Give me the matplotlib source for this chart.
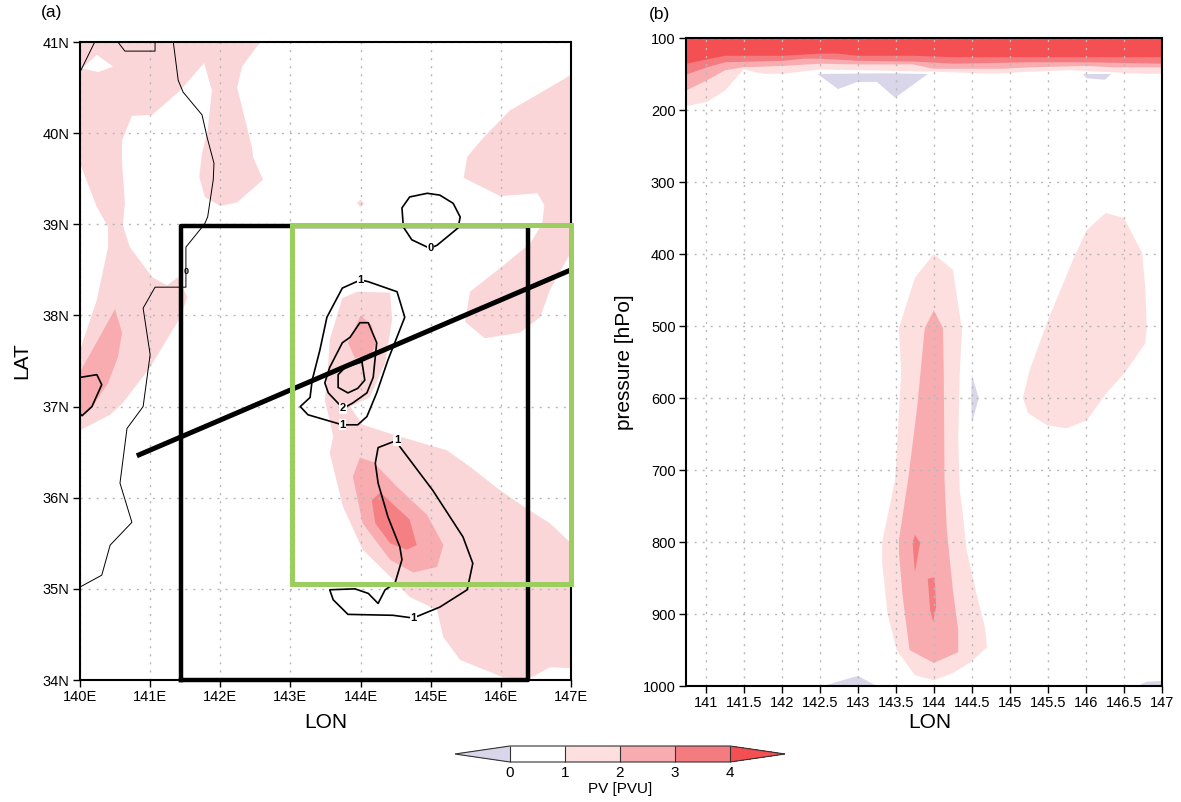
from matplotlib import pyplot as plt
from matplotlib.colors import ListedColormap, BoundaryNorm
from matplotlib.cm import ScalarMappable
import numpy as np

plt.rcParams['font.family'] = ['Liberation Sans', 'DejaVu Sans']

# colour levels
levels = [0, 1, 2, 3, 4]
level_colors = ['#ffffff', '#fddfdf', '#f9acb0', '#f47c80']
under_color = '#d9d6ea'
over_color = '#f45054'
light_a = '#fad6d8'
medium_a = '#f8acb0'
strong_a = '#f58084'
green = '#9bcd5f'

# panel (a) filled PV areas, (lon, lat)
nw_light = np.array([[140, 41], [142.57, 41], [142.31, 40.73], [142.24, 40.5], [142.45, 39.85], [142.47, 39.73],
                     [142.61, 39.49], [142.24, 39.24], [142, 39.2], [141.78, 39.3], [141.7, 39.52], [141.74, 39.78],
                     [141.82, 40.03], [141.88, 40.47], [141.77, 40.77], [141.43, 40.47], [141.03, 40.2], [140.74, 40.19],
                     [140.6, 39.92], [140.6, 39.67], [140.64, 39.23], [140.61, 38.99], [140.71, 38.75], [141.03, 38.42],
                     [141.24, 38.33], [141.4, 38.42], [141.53, 38.2], [141.43, 37.98], [141, 37.43], [140.61, 37.04],
                     [140.43, 36.91], [140, 36.74], [140, 37.62], [140.24, 38.17], [140.4, 38.75], [140.4, 38.97],
                     [140.24, 39.19], [140, 39.67]])
nw_hole = np.array([[140.03, 40.71], [140.24, 40.86], [140.47, 40.73], [140.26, 40.67]])
west_medium = np.array([[140.5, 38.07], [140.6, 37.81], [140.54, 37.54], [140.4, 37.26], [140.24, 37.07],
                        [140.17, 36.98], [140, 36.89], [140, 37.38], [140.24, 37.71]])
ne_light = np.array([[147, 40.64], [146.56, 40.44], [146.13, 40.25], [145.75, 39.95], [145.52, 39.74], [145.47, 39.51],
                     [145.99, 39.31], [146.52, 39.34], [146.62, 39.21], [146.59, 39.01], [146.42, 38.79], [145.99, 38.52],
                     [145.56, 38.26], [145.49, 37.93], [145.77, 37.75], [146.27, 37.81], [146.56, 37.98], [146.7, 38.28],
                     [146.96, 38.64], [147, 38.7]])
center_light = np.array([[143.95, 38.26], [144.42, 38.25], [144.45, 37.95], [144.35, 37.48], [144.13, 37.1], [143.85, 37],
                         [144.03, 36.8], [144.56, 36.67], [145.23, 36.52], [145.56, 36.34], [145.99, 36.08], [146.39, 35.87],
                         [146.7, 35.72], [147, 35.5], [147, 34.13], [146.7, 34.14], [146.44, 34.03], [146.37, 34],
                         [146.03, 34.03], [145.42, 34.22], [145.18, 34.47], [145.09, 34.77], [144.7, 34.91], [144.52, 35.06],
                         [144.03, 35.43], [143.75, 35.9], [143.56, 36.49], [143.61, 36.67], [143.56, 36.85], [143.49, 37.07],
                         [143.54, 37.48], [143.56, 37.73], [143.74, 38.19]])
center_medium = np.array([[144, 38], [144.16, 37.89], [144.21, 37.68], [144.16, 37.58], [143.92, 37.53], [143.82, 37.7],
                          [143.96, 37.93]])
south_medium = np.array([[143.99, 36.44], [144.18, 36.39], [144.52, 36.12], [144.95, 35.81], [145.18, 35.48], [145.09, 35.24],
                         [144.75, 35.18], [144.42, 35.32], [144.03, 35.72], [143.89, 36.23]])
south_strong = np.array([[144.16, 35.97], [144.28, 36.06], [144.7, 35.76], [144.8, 35.48], [144.66, 35.43], [144.42, 35.5],
                         [144.21, 35.72]])
dot_light = np.array([[143.95, 39.23], [144, 39.27], [144.05, 39.23], [144, 39.19]])

# panel (a) black contours
contour_west = np.array([[140, 37.32], [140.24, 37.35], [140.31, 37.24], [140.17, 37], [140.03, 36.9], [140, 36.92]])
contour_zero = np.array([[145, 38.74], [145.09, 38.77], [145.39, 38.96], [145.42, 39.08], [145.32, 39.23], [145.13, 39.32],
                         [144.95, 39.34], [144.7, 39.3], [144.59, 39.18], [144.61, 38.97], [144.73, 38.83], [144.95, 38.75],
                         [145, 38.74]])
contour_one_a = np.array([[144, 38.39], [143.74, 38.3], [143.52, 37.98], [143.42, 37.62], [143.31, 37.29], [143.28, 37.1],
                          [143.14, 37], [143.25, 36.91], [143.74, 36.8], [143.96, 36.8], [144.09, 36.89], [144.23, 37.15],
                          [144.39, 37.51], [144.63, 37.98], [144.52, 38.26], [144.11, 38.37], [144, 38.39]])
contour_two = np.array([[143.75, 36.98], [143.54, 37.15], [143.49, 37.26], [143.56, 37.43], [143.74, 37.7], [143.85, 37.76],
                        [143.99, 37.92], [144.11, 37.92], [144.23, 37.7], [144.18, 37.32], [144.09, 37.15], [143.89, 37.04],
                        [143.75, 36.98]])
contour_three = np.array([[144.02, 37.49], [144.06, 37.29], [143.96, 37.2], [143.82, 37.15], [143.68, 37.21], [143.68, 37.35],
                          [143.78, 37.43], [144.02, 37.49]])
contour_one_b = np.array([[144.52, 36.63], [144.25, 36.55], [144.21, 36.38], [144.25, 36.16], [144.39, 35.79], [144.56, 35.46],
                          [144.59, 35.32], [144.49, 35.06], [144.35, 34.99], [144.25, 34.84], [144.11, 34.95], [143.92, 35],
                          [143.56, 34.99], [143.61, 34.88], [143.82, 34.72], [144.46, 34.71], [144.75, 34.68], [145.13, 34.8],
                          [145.52, 34.99], [145.6, 35.28], [145.46, 35.57], [145.03, 36.08], [144.56, 36.56], [144.52, 36.63]])
contour_labels = [(145, 38.74, '0'), (144, 38.39, '1'), (143.75, 36.98, '2'), (143.74, 36.8, '1'),
                  (144.52, 36.63, '1'), (144.75, 34.68, '1')]

# panel (a) coast
coast_main = np.array([[141.33, 41], [141.4, 40.58], [141.47, 40.45], [141.74, 40.2], [141.81, 39.96], [141.91, 39.67],
                       [141.9, 39.49], [141.82, 39.08], [141.78, 39.01], [141.71, 38.94], [141.51, 38.75], [141.51, 38.31],
                       [141.07, 38.31], [140.9, 38.08], [141, 37.57], [140.9, 37], [140.67, 36.76], [140.57, 36.16],
                       [140.74, 35.73], [140.43, 35.48], [140.31, 35.15], [140, 35.02]])
coast_nw = np.array([[140.21, 41], [140, 40.67]])
coast_box = np.array([[140.54, 41], [140.64, 40.9], [141.07, 40.9], [141.07, 41]])

# panel (a) boxes and section line
black_box_lon = [141.44, 146.39]
black_box_lat = [34, 38.98]
green_box_lon = [143.02, 147]
green_box_lat = [35.05, 38.99]
section_lon = [140.81, 147]
section_lat = [36.46, 38.5]

# panel (b) top layer boundaries (lon, hPa)
over_edge = np.array([[140.74, 135], [141.01, 129], [141.25, 124], [142.01, 124], [142.5, 121], [142.72, 121], [143, 124],
                      [143.72, 124], [144.25, 126], [145.26, 126], [145.75, 126], [146.01, 126], [147, 126]])
strong_edge = np.array([[140.74, 150], [141.01, 140], [141.25, 133], [142.01, 131], [142.28, 128], [142.5, 128], [143, 131],
                        [143.72, 132], [144.25, 135], [145.26, 133], [146.01, 133], [147, 135]])
medium_edge = np.array([[140.74, 172], [141.01, 158], [141.25, 144], [141.49, 140], [142.01, 138], [142.5, 135], [143, 136],
                        [143.72, 136], [143.99, 142], [144.91, 142], [145.26, 140], [146.01, 138], [146.36, 140], [147, 140]])
light_edge = np.array([[140.74, 194], [141.01, 188], [141.25, 172], [141.49, 143], [141.75, 149], [142.01, 149], [142.5, 143],
                       [143.99, 146], [144.78, 149], [145.26, 146], [145.79, 144], [146.36, 147], [146.75, 149], [147, 149]])
top_blue_a = np.array([[142.47, 150], [142.74, 171], [142.99, 161], [143.25, 161], [143.49, 183], [143.92, 150], [143.38, 149]])
top_blue_b = np.array([[145.96, 150], [146.01, 156], [146.25, 158], [146.33, 150]])
bottom_blue_a = np.array([[142.54, 1000], [143, 986], [143.25, 1000]])
bottom_blue_b = np.array([[146.67, 1000], [146.8, 994], [147, 993], [147, 1000]])
mid_blue = np.array([[144.5, 568], [144.59, 600], [144.5, 635], [144.49, 600]])

# panel (b) column
column_light = np.array([[144, 400], [144.25, 422], [144.37, 506], [144.34, 565], [144.32, 658], [144.34, 728], [144.37, 751],
                         [144.43, 811], [144.57, 876], [144.67, 918], [144.7, 946], [144.47, 968], [144.25, 982], [144, 992],
                         [143.75, 985], [143.51, 950], [143.39, 899], [143.32, 829], [143.32, 800], [143.49, 714], [143.57, 565],
                         [143.54, 503], [143.75, 433]])
column_medium = np.array([[144, 478], [144.12, 503], [144.13, 565], [144.14, 714], [144.17, 783], [144.25, 867], [144.32, 922],
                          [144.32, 953], [144, 968], [143.68, 950], [143.59, 876], [143.54, 814], [143.54, 797], [143.66, 714],
                          [143.78, 613], [143.88, 503]])
column_strong_a = np.array([[143.75, 790], [143.82, 801], [143.75, 842], [143.72, 801]])
column_strong_b = np.array([[143.92, 851], [144.01, 849], [144.03, 890], [143.99, 911], [143.95, 894]])
east_light = np.array([[146.26, 343], [146.5, 350], [146.74, 399], [146.78, 447], [146.8, 503], [146.78, 524], [146.51, 565],
                       [146.28, 592], [146.01, 631], [145.75, 642], [145.49, 638], [145.24, 621], [145.17, 600], [145.26, 561],
                       [145.5, 492], [145.83, 408], [146.01, 367]])

# tick values
lon_ticks_a = [140, 141, 142, 143, 144, 145, 146, 147]
lat_ticks_a = [34, 35, 36, 37, 38, 39, 40, 41]
lon_ticks_b = [141, 141.5, 142, 142.5, 143, 143.5, 144, 144.5, 145, 145.5, 146, 146.5, 147]
lon_labels_b = ['141', '141.5', '142', '142.5', '143', '143.5', '144', '144.5', '145', '145.5', '146', '146.5', '147']
p_ticks = [100, 200, 300, 400, 500, 600, 700, 800, 900, 1000]

W, H = 1181, 802
fig = plt.figure(figsize=(W / 100, H / 100), dpi=100)
ax_a = fig.add_axes([80 / W, 1 - 680 / H, 491 / W, 638 / H])
ax_b = fig.add_axes([686 / W, 1 - 686 / H, 476 / W, 648 / H])


def fill(ax, pts, color, z=1):
    ax.fill(pts[:, 0], pts[:, 1], color=color, lw=0, zorder=z)


def line(ax, pts, lw=1.2, z=4):
    ax.plot(pts[:, 0], pts[:, 1], color='black', lw=lw, zorder=z, solid_joinstyle='round')


def style(ax):
    ax.grid(True, ls=(0, (1.5, 4.3)), color='#b8b8b8', lw=1)
    ax.set_axisbelow(False)
    for gl in ax.get_xgridlines() + ax.get_ygridlines():
        gl.set_zorder(2)
    for s in ax.spines.values():
        s.set_linewidth(1.5)
        s.set_zorder(6)
    ax.tick_params(length=5, width=1, labelsize=10.5, pad=2.5)


# panel (a)
for pts in [nw_light, ne_light, center_light]:
    fill(ax_a, pts, light_a)
fill(ax_a, nw_hole, 'white', 1.1)
fill(ax_a, dot_light, light_a)
for pts in [west_medium, center_medium, south_medium]:
    fill(ax_a, pts, medium_a, 1.2)
fill(ax_a, south_strong, strong_a, 1.3)

for pts in [coast_main, coast_nw, coast_box]:
    line(ax_a, pts, 0.7, 3)
for pts in [contour_west, contour_zero, contour_one_a, contour_two, contour_three, contour_one_b]:
    line(ax_a, pts, 1.2)
for x, y, s in contour_labels:
    ax_a.text(x, y, s, fontsize=8, fontweight='bold', ha='center', va='center', zorder=5,
              bbox=dict(fc='white', ec='none', pad=0.4))
ax_a.text(141.51, 38.48, '0', fontsize=6.5, fontweight='bold', ha='center', va='center', zorder=5)

ax_a.plot([black_box_lon[0], black_box_lon[0], black_box_lon[1], black_box_lon[1], black_box_lon[0]],
          [black_box_lat[0], black_box_lat[1], black_box_lat[1], black_box_lat[0], black_box_lat[0]],
          color='black', lw=3.2, zorder=7, clip_on=False)
ax_a.plot(section_lon, section_lat, color='black', lw=3.6, zorder=7, solid_capstyle='butt', clip_on=False)
ax_a.plot([green_box_lon[0], green_box_lon[0], green_box_lon[1], green_box_lon[1], green_box_lon[0]],
          [green_box_lat[0], green_box_lat[1], green_box_lat[1], green_box_lat[0], green_box_lat[0]],
          color=green, lw=3.6, zorder=8, clip_on=False, solid_joinstyle='miter')

ax_a.set_xlim(140, 147)
ax_a.set_ylim(34, 41)
ax_a.set_xticks(lon_ticks_a)
ax_a.set_xticklabels([str(v) + 'E' for v in lon_ticks_a])
ax_a.set_yticks(lat_ticks_a)
ax_a.set_yticklabels([str(v) + 'N' for v in lat_ticks_a])
style(ax_a)
ax_a.set_xlabel('LON', fontsize=15, labelpad=6)
ax_a.set_ylabel('LAT', fontsize=15, labelpad=8)
fig.text(41 / W, 1 - 13 / H, '(a)', fontsize=12.5, va='center')

# panel (b)
top_edges = [(light_edge, level_colors[1]), (medium_edge, level_colors[2]),
             (strong_edge, level_colors[3]), (over_edge, over_color)]
for i, (edge, color) in enumerate(top_edges):
    ax_b.fill_between(edge[:, 0], 100, edge[:, 1], color=color, lw=0, zorder=1 + i * 0.1)
for pts in [top_blue_a, top_blue_b, bottom_blue_a, bottom_blue_b, mid_blue]:
    fill(ax_b, pts, under_color)
fill(ax_b, column_light, level_colors[1])
fill(ax_b, east_light, level_colors[1])
fill(ax_b, column_medium, level_colors[2], 1.2)
fill(ax_b, column_strong_a, level_colors[3], 1.3)
fill(ax_b, column_strong_b, level_colors[3], 1.3)

ax_b.set_xlim(140.74, 147)
ax_b.set_ylim(1000, 100)
ax_b.set_xticks(lon_ticks_b)
ax_b.set_xticklabels(lon_labels_b)
ax_b.set_yticks(p_ticks)
style(ax_b)
ax_b.set_xlabel('LON', fontsize=15)
ax_b.xaxis.set_label_coords((930 - 686) / 476, -27 / 648, transform=ax_b.transAxes)
ax_b.set_ylabel('pressure [hPo]', fontsize=15, labelpad=6)
fig.text(649 / W, 1 - 14 / H, '(b)', fontsize=12.5, va='center')

# colour bar, axes width includes the two end triangles
cax = fig.add_axes([455 / W, 1 - 762 / H, 330 / W, 16 / H])
cmap = ListedColormap(level_colors).with_extremes(under=under_color, over=over_color)
norm = BoundaryNorm(levels, cmap.N)
cb = fig.colorbar(ScalarMappable(norm=norm, cmap=cmap), cax=cax, orientation='horizontal',
                  extend='both', extendfrac=0.25, spacing='proportional', ticks=levels, drawedges=True)
cb.outline.set_linewidth(0.8)
cb.outline.set_edgecolor('#333333')
cb.dividers.set_color('#333333')
cb.dividers.set_linewidth(0.8)
cax.tick_params(length=0, labelsize=11, pad=3)
cb.set_label('PV [PVU]', fontsize=11, labelpad=1)

fig.savefig('out.png', dpi=100)
